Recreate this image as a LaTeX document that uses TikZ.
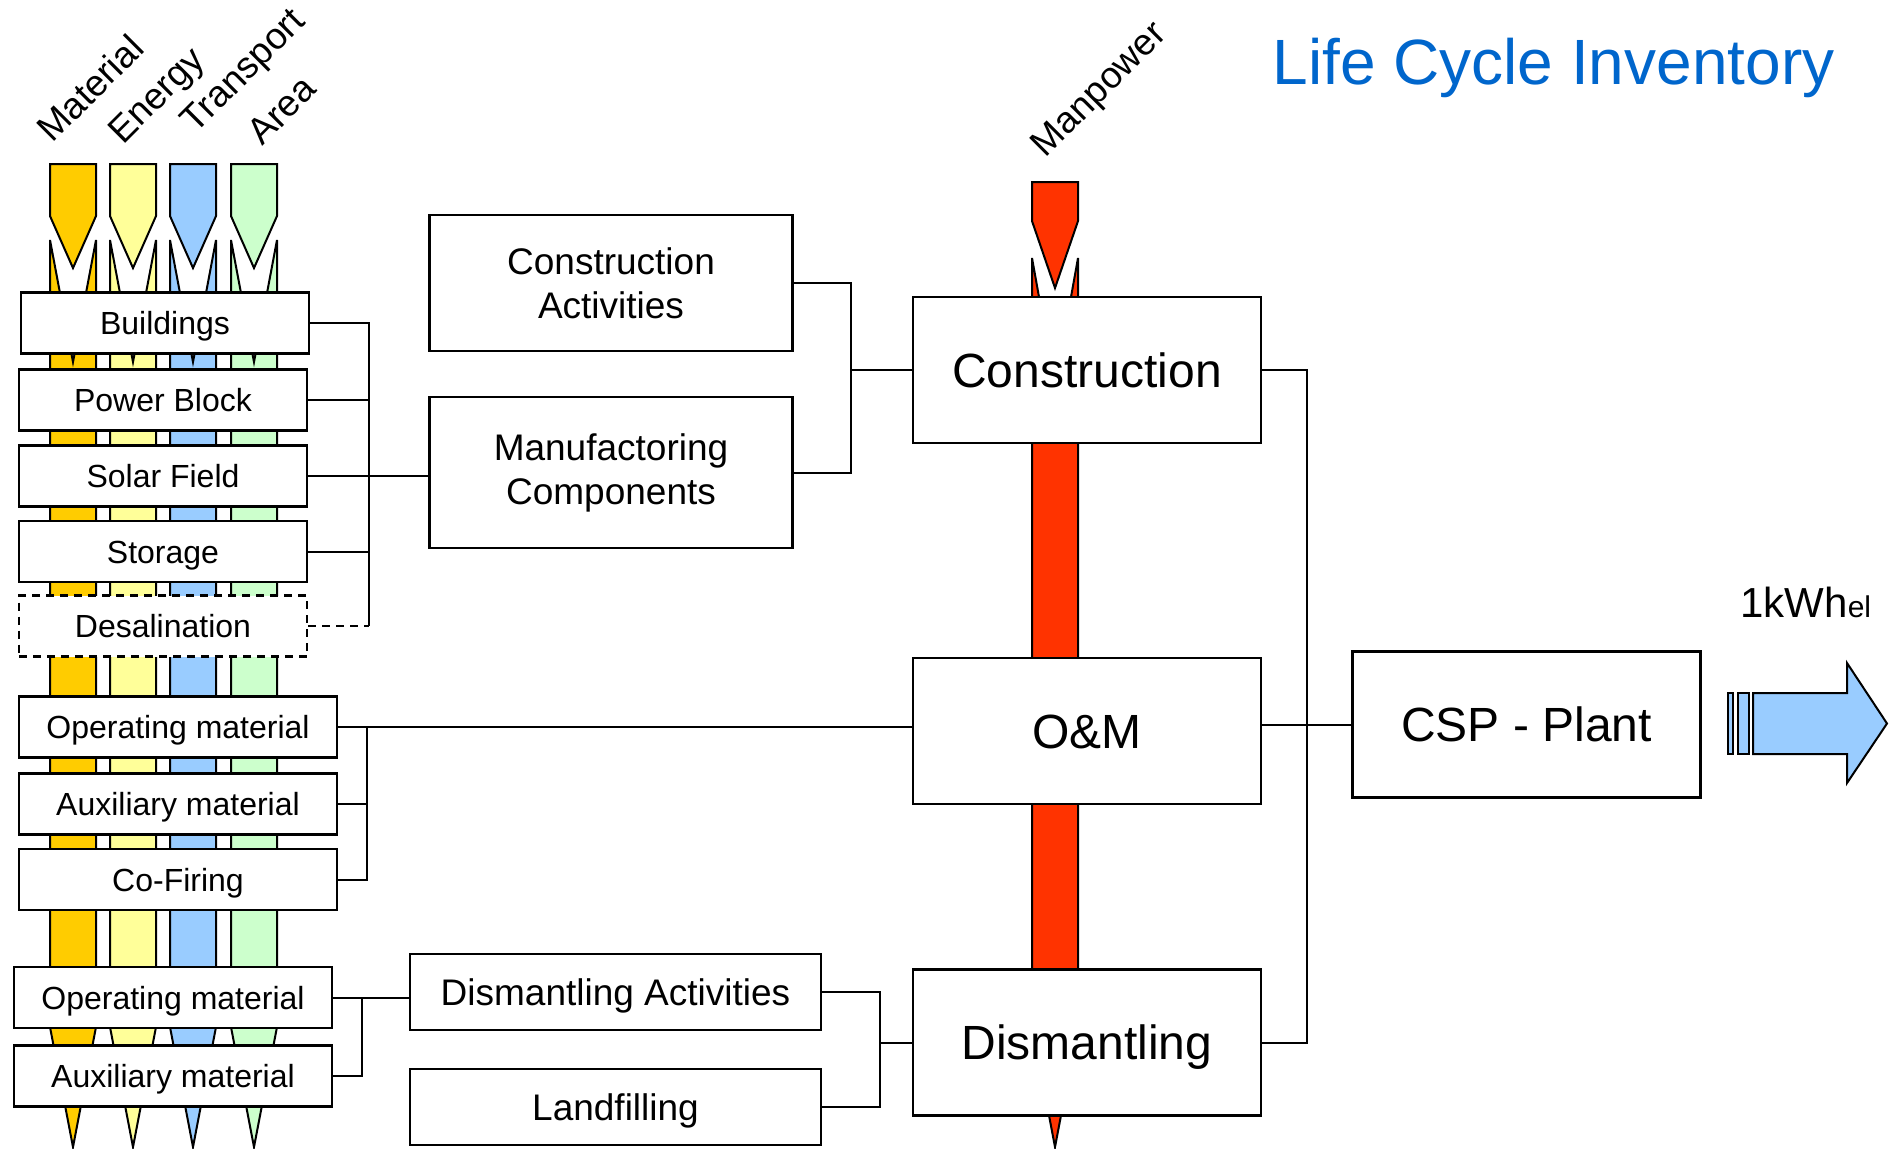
\documentclass[tikz,border=0pt]{standalone}
\usepackage{fontspec}
\setmainfont{Liberation Sans}
\definecolor{lcimat}{HTML}{FFCC00}
\definecolor{lcienergy}{HTML}{FFFF99}
\definecolor{lcitrans}{HTML}{99CCFF}
\definecolor{lciarea}{HTML}{CCFFCC}
\definecolor{lciman}{HTML}{FF3300}
\definecolor{lcititle}{HTML}{0066CC}
\usepackage{tikz}
\usetikzlibrary{positioning}

\begin{document}
\begin{tikzpicture}[
  x=0.5pt, y=-0.5pt,
  lbox/.style={draw, line width=1.2pt, fill=white, minimum width=144pt, minimum height=30.5pt, inner sep=0pt, text height=11.5pt, text depth=0pt, font=\fontsize{16}{19}\selectfont},
  obox/.style={lbox, minimum width=159pt},
  mbox/.style={draw, line width=1.2pt, fill=white, minimum width=181.5pt, align=center, inner sep=0pt, font=\fontsize{18.5}{22}\selectfont},
  bbox/.style={draw, line width=1.2pt, fill=white, minimum width=174pt, minimum height=73pt, inner sep=0pt, text height=17.2pt, text depth=0pt, font=\fontsize{24}{28}\selectfont},
  flow/.style={draw, line width=1pt},
  conn/.style={line width=1pt},
  tag/.style={rotate=45, inner sep=0pt, font=\fontsize{18.5}{22}\selectfont},
]
  \useasboundingbox (0,0) rectangle (1894,1148);
  \fill[white] (0,0) rectangle (1894,1148);

  \draw[flow, fill=lcimat] (50,164) -- (96,164) -- (96,216) -- (73,268) -- (50,216) -- cycle;
  \draw[flow, fill=lcimat] (50,240) -- (73,362) -- (96,240) -- (96,1027) -- (73,1147) -- (50,1027) -- cycle;
  \draw[flow, fill=lcienergy] (110,164) -- (156,164) -- (156,216) -- (133,268) -- (110,216) -- cycle;
  \draw[flow, fill=lcienergy] (110,240) -- (133,362) -- (156,240) -- (156,1027) -- (133,1147) -- (110,1027) -- cycle;
  \draw[flow, fill=lcitrans] (170,164) -- (216,164) -- (216,216) -- (193,268) -- (170,216) -- cycle;
  \draw[flow, fill=lcitrans] (170,240) -- (193,362) -- (216,240) -- (216,1027) -- (193,1147) -- (170,1027) -- cycle;
  \draw[flow, fill=lciarea] (231,164) -- (277,164) -- (277,216) -- (254,268) -- (231,216) -- cycle;
  \draw[flow, fill=lciarea] (231,240) -- (254,362) -- (277,240) -- (277,1027) -- (254,1147) -- (231,1027) -- cycle;
  \draw[flow, fill=lciman] (1032,182) -- (1078,182) -- (1078,221) -- (1055,288) -- (1032,221) -- cycle;
  \draw[flow, fill=lciman] (1032,258) -- (1055,386) -- (1078,258) -- (1078,1026) -- (1055,1147) -- (1032,1026) -- cycle;

  \node[tag] (tmat) at (90,88) {Material};
  \node[tag] (tene) at (158.5,97.5) {Energy};
  \node[tag] (ttra) at (245,72.5) {Transport};
  \node[tag] (tare) at (281.5,110) {Area};
  \node[tag] (tman) at (1100.5,91) {Manpower};
  \node[anchor=base west, text=lcititle, inner sep=0pt, font=\fontsize{32}{36}\selectfont] (ttl) at (1272,84) {Life Cycle Inventory};

  \node[lbox] (bld) at (165,323) {Buildings};
  \node[lbox] (pwr) at (163,400) {Power Block};
  \node[lbox] (sol) at (163,476) {Solar Field};
  \node[lbox] (sto) at (163,551.5) {Storage};
  \node[lbox, dash pattern=on 4pt off 3pt] (des) at (163,626) {Desalination};
  \node[obox] (op1) at (178,727) {Operating material};
  \node[obox] (aux1) at (178,804) {Auxiliary material};
  \node[obox] (cof) at (178,879.5) {Co-Firing};
  \node[obox] (op2) at (173,997.5) {Operating material};
  \node[obox] (aux2) at (173,1076) {Auxiliary material};

  \node[mbox, minimum height=68pt] (cact) at (611,283) {Construction\\Activities};
  \node[mbox, minimum height=75.5pt] (manu) at (611,472.5) {Manufactoring\\Components};
  \node[mbox, minimum width=205.5pt, minimum height=38pt, text height=13.3pt, text depth=0pt] (dact) at (615.5,992) {Dismantling Activities};
  \node[mbox, minimum width=205.5pt, minimum height=38pt, text height=13.3pt, text depth=0pt] (land) at (615.5,1107) {Landfilling};

  \node[bbox] (con) at (1087,370) {Construction};
  \node[bbox] (om) at (1087,731) {O\&M};
  \node[bbox] (dis) at (1087,1042.5) {Dismantling};
  \node[bbox] (csp) at (1526.5,724.5) {CSP - Plant};

  \node[anchor=base west, inner sep=0pt, font=\fontsize{21}{24}\selectfont] (kwh) at (1740,617) {1kWh{\fontsize{15}{18}\selectfont el}};
  \draw[flow, fill=lcitrans] (1728,693) rectangle (1733,754);
  \draw[flow, fill=lcitrans] (1738,693) rectangle (1749,754);
  \draw[flow, fill=lcitrans] (1753,693) -- (1847,693) -- (1847,663) -- (1887,723.5) -- (1847,783) -- (1847,754) -- (1753,754) -- cycle;

  \coordinate (busa) at (369,0);
  \coordinate (busb) at (851,0);
  \coordinate (busc) at (367,0);
  \coordinate (busd) at (362,0);
  \coordinate (buse) at (880,0);
  \coordinate (busf) at (1307,0);

  \draw[conn] (bld.east) -- (bld.east -| busa) -- (des.east -| busa);
  \draw[conn] (pwr.east) -- (pwr.east -| busa);
  \draw[conn] (sol.east) -- (sol.east -| manu.west);
  \draw[conn] (sto.east) -- (sto.east -| busa);
  \draw[conn, dash pattern=on 4pt off 3pt] (des.east) -- (des.east -| busa);

  \draw[conn] (cact.east) -- (cact.east -| busb) -- (manu.east -| busb) -- (manu.east);
  \draw[conn] (con.west -| busb) -- (con.west);

  \draw[conn] (op1.east) -- (op1.east -| om.west);
  \draw[conn] (op1.east -| busc) -- (cof.east -| busc) -- (cof.east);
  \draw[conn] (aux1.east) -- (aux1.east -| busc);

  \draw[conn] (op2.east) -- (op2.east -| dact.west);
  \draw[conn] (op2.east -| busd) -- (aux2.east -| busd) -- (aux2.east);

  \draw[conn] (dact.east) -- (dact.east -| buse) -- (land.east -| buse) -- (land.east);
  \draw[conn] (dis.west) -- (dis.west -| buse);

  \draw[conn] (con.east) -- (con.east -| busf) -- (dis.east -| busf) -- (dis.east);
  \draw[conn] (om.east |- csp.west) -- (csp.west);
\end{tikzpicture}
\end{document}
